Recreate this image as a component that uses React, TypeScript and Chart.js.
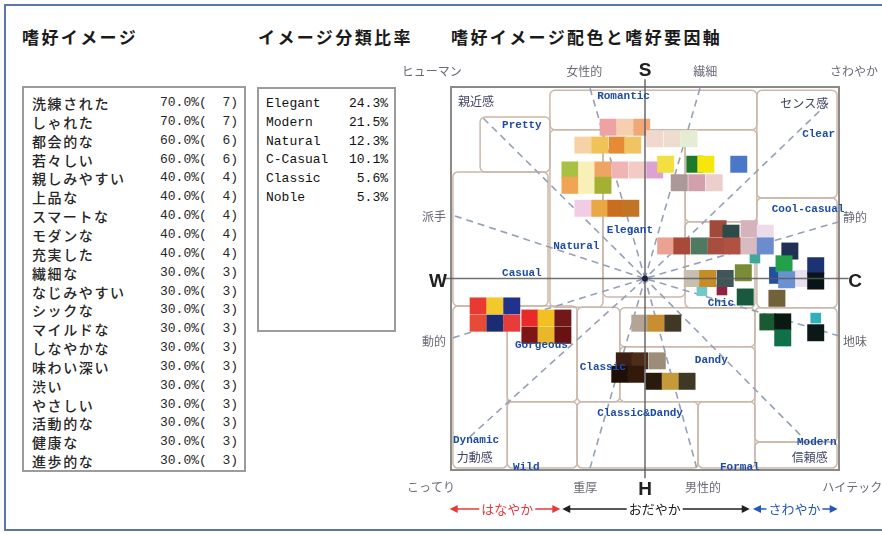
import React, { useEffect, useRef } from 'react';
import { Chart, registerables } from 'chart.js';
Chart.register(...registerables);

// ---- 嗜好イメージ (left table) ----
const imageWords = ['洗練された', 'しゃれた', '都会的な', '若々しい', '親しみやすい', '上品な', 'スマートな', 'モダンな', '充実した', '繊細な', 'なじみやすい', 'シックな', 'マイルドな', 'しなやかな', '味わい深い', '渋い', 'やさしい', '活動的な', '健康な', '進歩的な'];
const imageRates = [70, 70, 60, 60, 40, 40, 40, 40, 40, 30, 30, 30, 30, 30, 30, 30, 30, 30, 30, 30];
const imageCounts = [7, 7, 6, 6, 4, 4, 4, 4, 4, 3, 3, 3, 3, 3, 3, 3, 3, 3, 3, 3];

// ---- イメージ分類比率 ----
const classNames = ['Elegant', 'Modern', 'Natural', 'C-Casual', 'Classic', 'Noble'];
const classRates = [24.3, 21.5, 12.3, 10.1, 5.6, 5.3];

// ---- colour chips on the image scale (x: W(-3)..C(+3), y: H(-3)..S(+3)) ----
const chipX = [
  -0.57, -0.31, -0.05,
  -0.96, -0.70, -0.43, -0.19,
  0.15, 0.42, 0.68,
  -1.16, -0.90, -0.65, -0.39, -0.12, 0.15,
  0.32, 0.77, 0.94, 1.45,
  -1.16, -0.90, -0.65,
  -0.96, -0.70, -0.45, -0.22,
  0.53, 0.80, 1.07,
  1.13, 1.33, 1.61, 1.86,
  0.32, 0.57, 0.84, 1.10, 1.35, 1.61, 1.86,
  2.24,
  0.73, 0.97, 1.24, 1.52, 1.55,
  2.41, 2.05, 2.15, 2.19,
  2.64, 2.64,
  2.04,
  1.90, 2.13, 2.13,
  2.64,
  -0.08, 0.17, 0.43,
  -0.32, -0.08, 0.19,
  -0.39, -0.14,
  0.14, 0.39, 0.65,
  -2.58, -2.32, -2.06,
  -2.58, -2.32, -2.06,
  -1.78, -1.53, -1.27,
  -1.78, -1.53, -1.27,
];
const chipY = [
  2.37, 2.37, 2.37,
  2.09, 2.09, 2.09, 2.09,
  2.19, 2.19, 2.19,
  1.70, 1.70, 1.70, 1.70, 1.70, 1.70,
  1.79, 1.79, 1.79, 1.79,
  1.46, 1.46, 1.46,
  1.10, 1.10, 1.10, 1.10,
  1.50, 1.50, 1.50,
  0.78, 0.71, 0.78, 0.71,
  0.51, 0.51, 0.51, 0.51, 0.51, 0.51, 0.51,
  0.43,
  0.0, 0.0, 0.0, 0.09, -0.29,
  0.0, 0.05, 0.23, -0.02,
  0.20, -0.04,
  -0.31,
  -0.68, -0.68, -0.93,
  -0.85,
  -0.70, -0.70, -0.70,
  -1.29, -1.29, -1.29,
  -1.50, -1.50,
  -1.61, -1.61, -1.61,
  -0.43, -0.43, -0.43,
  -0.70, -0.70, -0.70,
  -0.62, -0.62, -0.62,
  -0.89, -0.89, -0.89,
];
const chipColors = [
  '#eea2a2', '#f6ceb0', '#f0a878',
  '#f7d2a6', '#f0c258', '#e68a34', '#f0c462',
  '#f2d8cc', '#eedcd0', '#e4ecd4',
  '#a8c044', '#f8f0b8', '#f0a462', '#f0b4b4', '#f2ccc4', '#dca2d4',
  '#f2e040', '#1e7a2a', '#f6e60a', '#4a78c8',
  '#f0a454', '#f8f0b8', '#a4b032',
  '#f2cce4', '#eaa844', '#c86e1e', '#c07424',
  '#ac9898', '#d2a0ac', '#eccfcc',
  '#a24a3a', '#2c4a4a', '#d6b2ba', '#ecdcea',
  '#eca292', '#a84a3a', '#4e7a62', '#a84e3e', '#b05242', '#d8bac2', '#6c8cd0',
  '#203052',
  '#c6beae', '#c68c26', '#405656', '#7a8c36', '#1a5a3c',
  '#e8e0ee', '#2050a0', '#22a04a', '#6a92d2',
  '#1c3272', '#0a1418',
  '#72623a',
  '#1a5a32', '#0a1a12', '#10704a',
  '#0c1818',
  '#b4a494', '#c88e30', '#403824',
  '#3c1e12', '#4e2c1a', '#9c8c7a',
  '#1e1008', '#32190a',
  '#2a1a0c', '#c49a3a', '#3e3824',
  '#e83a30', '#f2c82a', '#22328a',
  '#e84a38', '#1c2c72', '#e83c3a',
  '#e82a28', '#f2c022', '#72181a',
  '#7e1616', '#e8b82a', '#6a1212',
];
// small accent chips (drawn beneath the main chips)
const accentX = [1.70, 1.19, 0.88, 2.64];
const accentY = [0.32, -0.18, -0.19, -0.62];
const accentColors = ['#40a898', '#922244', '#70c8c8', '#30b0b8'];

// ---- pattern regions (image-scale units: x1, y1, x2, y2) ----
const regionBoxes = [
  [-2.55, 2.53, -1.47, 1.67],
  [-1.47, 2.95, 1.73, 2.33],
  [1.73, 2.95, 2.97, 1.26],
  [-2.97, 1.67, -1.50, -0.43],
  [-1.47, 2.33, -0.65, -0.45],
  [-0.65, 2.33, 0.62, -0.29],
  [0.62, 2.33, 1.73, 0.89],
  [1.73, 1.26, 2.97, -0.46],
  [0.62, 0.89, 1.70, -0.46],
  [-0.39, -0.46, 1.70, -1.07],
  [-2.13, -0.43, -1.05, -1.93],
  [-2.97, -0.43, -2.13, -2.97],
  [-2.13, -1.93, -1.05, -2.97],
  [-1.05, -0.45, -0.39, -1.93],
  [-0.39, -1.07, 1.70, -1.93],
  [-1.05, -1.93, 0.82, -2.97],
  [0.82, -1.93, 1.70, -2.97],
  [1.70, -0.46, 2.97, -2.56],
  [1.70, -2.56, 2.97, -2.97],
];
// radial factor lines: outer end points
const radialX = [-2.50, -0.85, 0.85, 2.83, 3.0, 3.0, 2.40, 0.80, -0.85, -2.71, -2.97, -2.94];
const radialY = [2.51, 2.98, 2.98, 2.75, 0.89, -0.90, -2.45, -2.97, -2.97, -2.48, -0.93, 0.98];

// pattern names
const patternNames = ['Romantic', 'Pretty', 'Clear', 'Cool-casual', 'Natural', 'Elegant', 'Casual', 'Chic', 'Gorgeous', 'Classic', 'Dandy', 'Classic&Dandy', 'Dynamic', 'Wild', 'Formal', 'Modern'];
const patternX = [-0.74, -2.21, 2.43, 1.96, -1.42, -0.59, -2.21, 0.97, -2.01, -1.01, 0.77, -0.74, -2.97, -2.04, 1.16, 2.35];
const patternY = [2.86, 2.40, 2.26, 1.09, 0.51, 0.76, 0.09, -0.38, -1.04, -1.39, -1.28, -2.11, -2.53, -2.95, -2.95, -2.56];

// factor words inside the scale
const innerWords = ['親近感', 'センス感', '力動感', '信頼感'];
const innerX = [-2.89, 2.09, -2.91, 2.27];
const innerY = [2.77, 2.75, -2.81, -2.80];

// factor words around the scale
const outerWords = ['ヒューマン', '女性的', '繊細', 'さわやか', '派手', '動的', '静的', '地味', 'こってり', '重厚', '男性的', 'ハイテック'];
const outerX = [-3.76, -0.94, 0.93, 2.86, -3.45, -3.45, 3.06, 3.06, -3.68, -1.11, 0.62, 2.74];
const outerY = [3.25, 3.25, 3.25, 3.25, 0.98, -0.99, 0.96, -0.99, -3.28, -3.28, -3.28, -3.28];
const outerAlign = ['left', 'center', 'center', 'left', 'left', 'left', 'left', 'left', 'left', 'left', 'left', 'left'];

const axisLetters = ['S', 'H', 'W', 'C'];
const axisLetterX = [0, 0, -3.2, 3.25];
const axisLetterY = [3.27, -3.30, -0.04, -0.04];

// balance arrows under the scale
const arrowWords = ['はなやか', 'おだやか', 'さわやか'];
const arrowFrom = [-3.02, -1.28, 1.67];
const arrowTo = [-1.31, 1.62, 2.98];
const arrowTextX = [-2.13, 0.15, 2.31];
const arrowColors = ['#e43a3a', '#202020', '#2458b8'];
const arrowRowY = -3.61;

const JP = '"Noto Sans CJK JP", "Noto Sans", sans-serif';

const scalePlugin = {
  id: 'imageScale',
  beforeDatasetsDraw(chart: any) {
    const { ctx } = chart;
    const X = (v: number) => chart.scales.x.getPixelForValue(v);
    const Y = (v: number) => chart.scales.y.getPixelForValue(v);
    ctx.save();
    // region boxes
    ctx.strokeStyle = '#ccb8ab';
    ctx.lineWidth = 1.5;
    regionBoxes.forEach(([x1, y1, x2, y2]) => {
      ctx.beginPath();
      const l = X(x1), t = Y(y1), w = X(x2) - X(x1), h = Y(y2) - Y(y1);
      if (ctx.roundRect) ctx.roundRect(l, t, w, h, 5); else ctx.rect(l, t, w, h);
      ctx.stroke();
    });
    // radial dashed lines
    ctx.strokeStyle = '#95a1b6';
    ctx.lineWidth = 1.6;
    ctx.setLineDash([7, 5]);
    radialX.forEach((rx, i) => {
      ctx.beginPath();
      ctx.moveTo(X(rx), Y(radialY[i]));
      ctx.lineTo(X(0), Y(0));
      ctx.stroke();
    });
    ctx.setLineDash([]);
    // frame
    ctx.strokeStyle = '#8a8a8a';
    ctx.lineWidth = 2;
    ctx.strokeRect(X(-3), Y(3), X(3) - X(-3), Y(-3) - Y(3));
    ctx.restore();
  },
  afterDatasetsDraw(chart: any) {
    const { ctx } = chart;
    const X = (v: number) => chart.scales.x.getPixelForValue(v);
    const Y = (v: number) => chart.scales.y.getPixelForValue(v);
    ctx.save();
    // axes
    ctx.strokeStyle = 'rgba(90,90,90,0.85)';
    ctx.lineWidth = 1.6;
    ctx.beginPath();
    ctx.moveTo(X(-3.1), Y(0));
    ctx.lineTo(X(3.15), Y(0));
    ctx.moveTo(X(0), Y(3.12));
    ctx.lineTo(X(0), Y(-3.13));
    ctx.stroke();
    // centre
    ctx.fillStyle = '#202040';
    ctx.beginPath();
    ctx.arc(X(0), Y(0), 3, 0, Math.PI * 2);
    ctx.fill();

    ctx.textBaseline = 'middle';
    // pattern names
    ctx.font = 'bold 11px "Liberation Mono", monospace';
    ctx.fillStyle = '#1c4ca8';
    ctx.textAlign = 'left';
    patternNames.forEach((n, i) => ctx.fillText(n, X(patternX[i]), Y(patternY[i])));
    // inner words
    ctx.font = '12px ' + JP;
    ctx.fillStyle = '#404466';
    innerWords.forEach((n, i) => ctx.fillText(n, X(innerX[i]), Y(innerY[i])));
    // outer words
    ctx.fillStyle = '#6a6a78';
    ctx.font = '12px ' + JP;
    outerWords.forEach((n, i) => {
      ctx.textAlign = outerAlign[i];
      ctx.fillText(n, X(outerX[i]), Y(outerY[i]));
    });
    // axis letters
    ctx.fillStyle = '#202020';
    ctx.font = 'bold 19px "Liberation Sans", sans-serif';
    ctx.textAlign = 'center';
    axisLetters.forEach((n, i) => ctx.fillText(n, X(axisLetterX[i]), Y(axisLetterY[i]) + 1));

    // balance arrows
    const yy = Y(arrowRowY);
    ctx.font = '13px ' + JP;
    arrowWords.forEach((w, i) => {
      const x1 = X(arrowFrom[i]), x2 = X(arrowTo[i]), tx = X(arrowTextX[i]);
      ctx.strokeStyle = arrowColors[i];
      ctx.fillStyle = arrowColors[i];
      ctx.lineWidth = 1.6;
      ctx.beginPath();
      ctx.moveTo(x1 + 2, yy);
      ctx.lineTo(x2 - 2, yy);
      ctx.stroke();
      ctx.beginPath();
      ctx.moveTo(x1, yy); ctx.lineTo(x1 + 8, yy - 4); ctx.lineTo(x1 + 8, yy + 4); ctx.closePath(); ctx.fill();
      ctx.beginPath();
      ctx.moveTo(x2, yy); ctx.lineTo(x2 - 8, yy - 4); ctx.lineTo(x2 - 8, yy + 4); ctx.closePath(); ctx.fill();
      const tw = ctx.measureText(w).width;
      ctx.fillStyle = '#ffffff';
      ctx.fillRect(tx - tw / 2 - 2, yy - 8, tw + 4, 16);
      ctx.fillStyle = arrowColors[i];
      ctx.textAlign = 'center';
      ctx.fillText(w, tx, yy);
    });
    ctx.restore();
  },
};

function ImageScaleChart() {
  const ref = useRef<HTMLCanvasElement | null>(null);
  useEffect(() => {
    if (!ref.current) return;
    const chart = new Chart(ref.current, {
      type: 'scatter',
      data: {
        datasets: [
          {
            data: chipX.map((x, i) => ({ x, y: chipY[i] })),
            backgroundColor: chipColors,
            pointStyle: 'rect',
            pointRadius: 12,
            pointHoverRadius: 12,
            borderWidth: 0,
          },
          {
            data: accentX.map((x, i) => ({ x, y: accentY[i] })),
            backgroundColor: accentColors,
            pointStyle: 'rect',
            pointRadius: 7.5,
            pointHoverRadius: 7.5,
            borderWidth: 0,
          },
        ],
      },
      options: {
        responsive: false,
        animation: false,
        devicePixelRatio: 1,
        events: [],
        layout: { padding: { left: 451, right: 43, top: 87, bottom: 63 } },
        scales: {
          x: { type: 'linear', min: -3, max: 3, display: false },
          y: { type: 'linear', min: -3, max: 3, display: false },
        },
        plugins: { legend: { display: false }, tooltip: { enabled: false } },
      } as any,
      plugins: [scalePlugin as any],
    });
    return () => chart.destroy();
  }, []);
  return <canvas ref={ref} width={882} height={533} style={{ position: 'absolute', left: 0, top: 0 }} />;
}

export default function App() {
  const title = { position: 'absolute' as const, top: 27, fontFamily: JP, fontWeight: 700, fontSize: 17, letterSpacing: '2.4px', lineHeight: '20px', color: '#1a1a1a', whiteSpace: 'nowrap' as const };
  const mono = '"Liberation Mono", "DejaVu Sans Mono", monospace';
  return (
    <div style={{ position: 'fixed', left: 0, top: 0, width: 882, height: 533, background: '#fff', overflow: 'hidden' }}>
      <div style={{ position: 'absolute', left: 4, top: 4, width: 920, height: 527, border: '2px solid #5b77a6', boxSizing: 'border-box' }} />
      <div style={{ ...title, left: 22 }}>嗜好イメージ</div>
      <div style={{ ...title, left: 258 }}>イメージ分類比率</div>
      <div style={{ ...title, left: 451 }}>嗜好イメージ配色と嗜好要因軸</div>

      <div style={{ position: 'absolute', left: 22, top: 86, width: 224, height: 386, border: '2px solid #9c9c9c', boxSizing: 'border-box' }} />
      {imageWords.map((w, i) => {
        const top = 94 + i * 18.85;
        return (
          <React.Fragment key={w}>
            <div style={{ position: 'absolute', left: 32, top, lineHeight: '18px', fontFamily: JP, fontWeight: 500, fontSize: 14, letterSpacing: '1.6px', color: '#262626', whiteSpace: 'nowrap' }}>{w}</div>
            <div style={{ position: 'absolute', left: 160, top, lineHeight: '18px', fontFamily: mono, fontSize: 13, color: '#262626', whiteSpace: 'pre' }}>{imageRates[i].toFixed(1) + '%('}</div>
            <div style={{ position: 'absolute', left: 208, width: 30, textAlign: 'right', top, lineHeight: '18px', fontFamily: mono, fontSize: 13, color: '#262626', whiteSpace: 'pre' }}>{imageCounts[i] + ')'}</div>
          </React.Fragment>
        );
      })}

      <div style={{ position: 'absolute', left: 257, top: 87, width: 139, height: 245, border: '2px solid #9c9c9c', boxSizing: 'border-box' }} />
      {classNames.map((n, i) => {
        const top = 95 + i * 18.8;
        return (
          <React.Fragment key={n}>
            <div style={{ position: 'absolute', left: 266, top, lineHeight: '18px', fontFamily: mono, fontSize: 13, color: '#111', whiteSpace: 'pre' }}>{n}</div>
            <div style={{ position: 'absolute', left: 338, width: 50, textAlign: 'right', top, lineHeight: '18px', fontFamily: mono, fontSize: 13, color: '#111', whiteSpace: 'pre' }}>{classRates[i].toFixed(1) + '%'}</div>
          </React.Fragment>
        );
      })}

      <ImageScaleChart />
    </div>
  );
}
